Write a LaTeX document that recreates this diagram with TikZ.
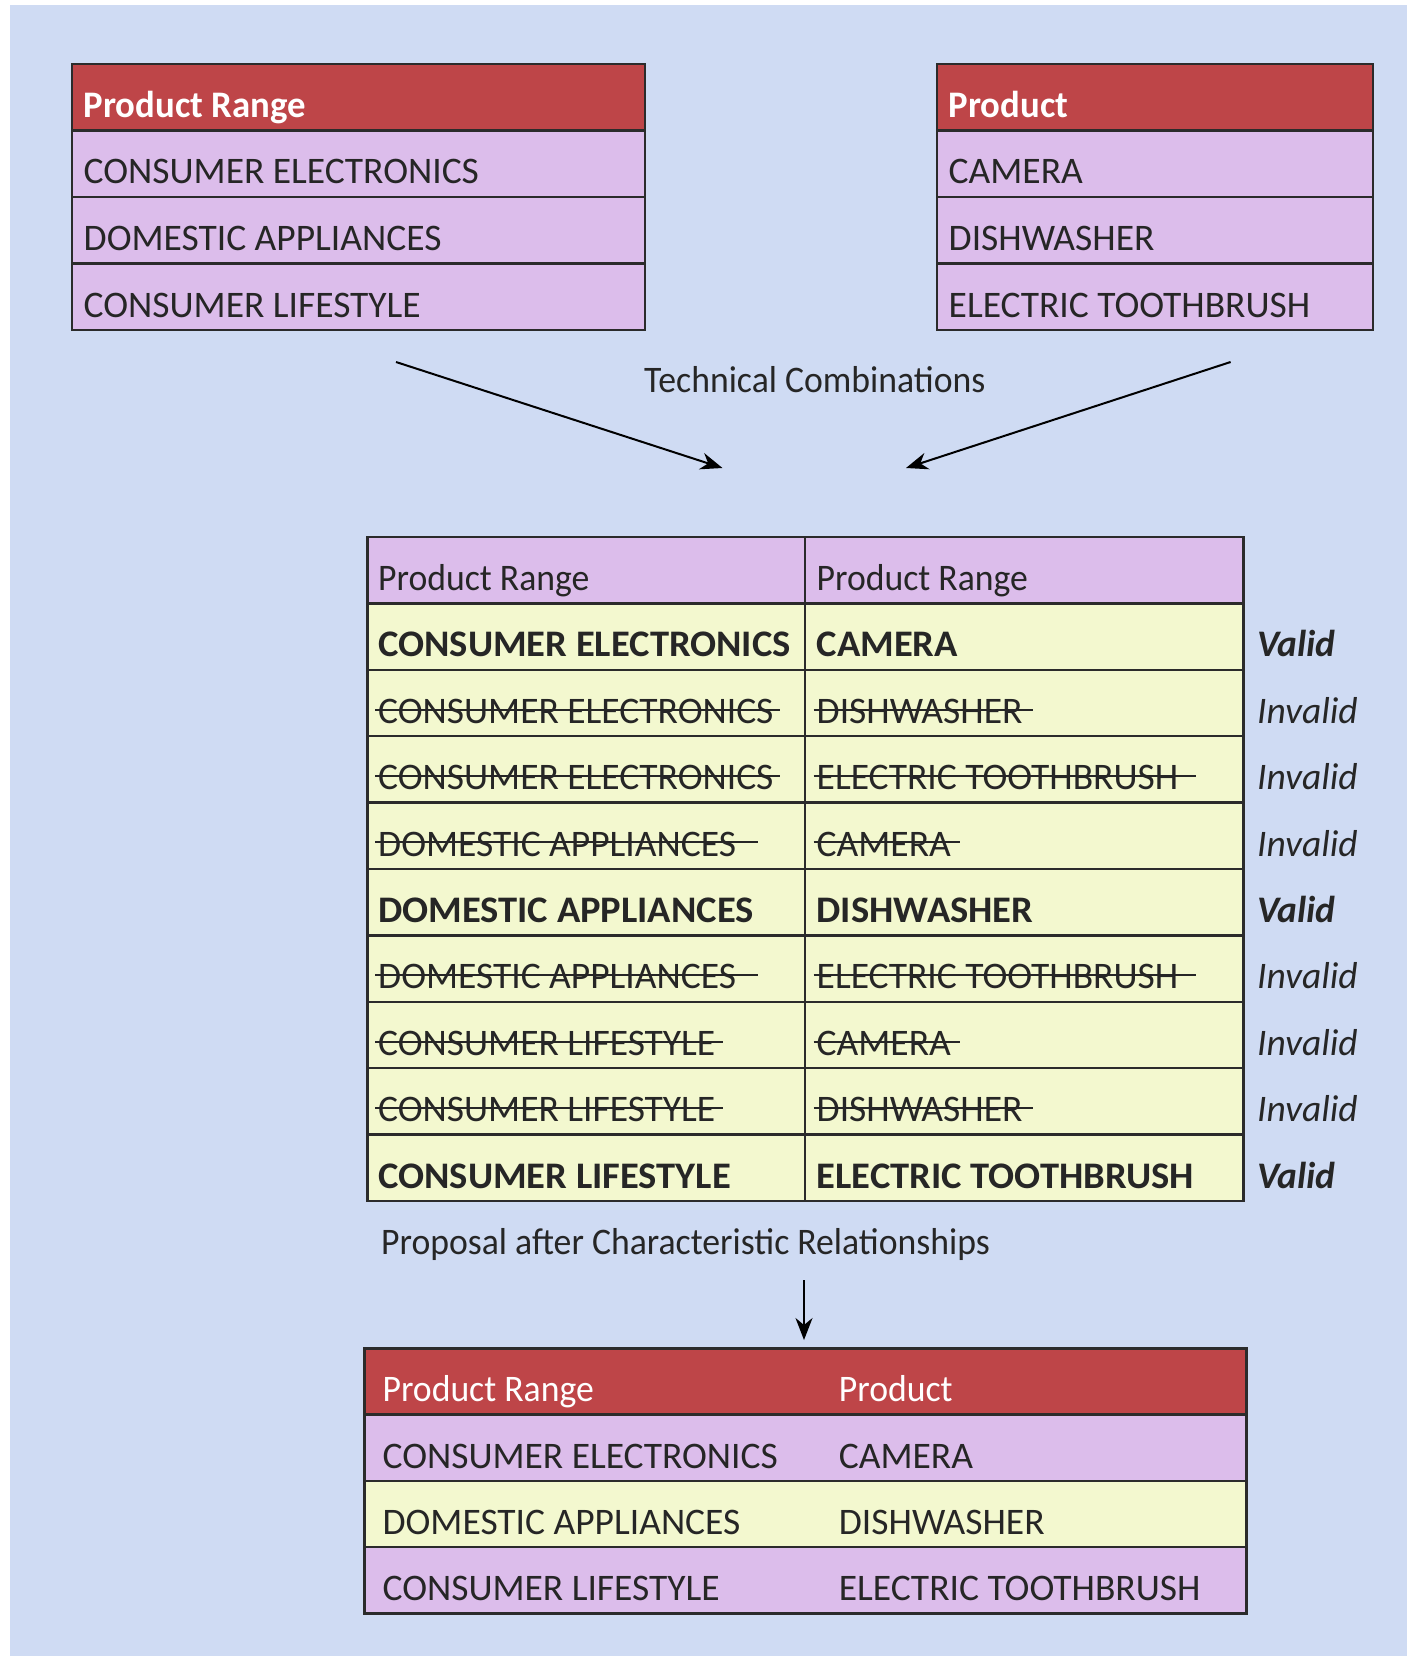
\documentclass[tikz,border=0pt]{standalone}
\usepackage{fontspec}
\setmainfont{Carlito}
% slightly condensed face for mixed-case captions, slightly extended face for bold capitals
\newfontfamily\capfont[FakeStretch=0.952]{Carlito}
\newfontfamily\capboldfont[FakeStretch=0.98]{Carlito}
\newfontfamily\wideboldfont[FakeStretch=1.028]{Carlito}
\usetikzlibrary{arrows.meta}

\definecolor{bgblue}{HTML}{CFDBF3}
\definecolor{hdrred}{HTML}{BE4548}
\definecolor{lilac}{HTML}{DCBDEB}
\definecolor{paleyel}{HTML}{F3F8CF}
\definecolor{gridline}{HTML}{2B2B2B}
\definecolor{ink}{HTML}{262626}

% struck-through entry: #1 = how far the bar runs past the text
\newcommand\strk[2][10pt]{\setbox0=\hbox{#2}%
  \rlap{\kern-3pt\rule[0.34em]{\dimexpr\wd0+3pt+#1\relax}{2pt}}\box0}

\tikzset{
  txt/.style={anchor=base west, inner sep=0pt, text=ink,
              font=\fontsize{37.5}{45}\selectfont},
  captxt/.style={txt, font=\capfont\fontsize{37.5}{45}\selectfont},
  boldtxt/.style={txt, font=\wideboldfont\fontsize{37.5}{45}\selectfont\bfseries},
  hdtxt/.style={txt, text=white, font=\capboldfont\fontsize{37.5}{45}\selectfont\bfseries},
  hdlight/.style={captxt, text=white},
  grid/.style={draw=gridline, line width=2.5pt},
  flow/.style={draw=black, line width=2pt,
               -{Stealth[length=22pt,width=17pt,inset=7pt]}},
  okmark/.style={txt, font=\fontsize{37.5}{45}\selectfont\bfseries\itshape},
  nomark/.style={txt, font=\fontsize{37.5}{45}\selectfont\itshape},
}

\begin{document}
\begin{tikzpicture}[x=1pt,y=-1pt]
\useasboundingbox (0,0) rectangle (1407,1656);
\fill[white] (0,0) rectangle (1407,1656);
\fill[bgblue] (10,5) rectangle (1407,1656);

% ---------- source table: product ranges ----------
\fill[hdrred] (72,64) rectangle (645,130.5);
\fill[lilac] (72,130.5) rectangle (645,330);
\foreach \yy in {130.5,197,263.5} \draw[grid] (72,\yy) -- (645,\yy);
\draw[grid] (72,64) rectangle (645,330);
\node[hdtxt] (rangehead) at (83.5,117.5) {Product Range};
\node[txt] (range1) at (83.5,184) {CONSUMER ELECTRONICS};
\node[txt] (range2) at (83.5,250.5) {DOMESTIC APPLIANCES};
\node[txt] (range3) at (83.5,317) {CONSUMER LIFESTYLE};

% ---------- source table: products ----------
\fill[hdrred] (937,64) rectangle (1373,130.5);
\fill[lilac] (937,130.5) rectangle (1373,330);
\foreach \yy in {130.5,197,263.5} \draw[grid] (937,\yy) -- (1373,\yy);
\draw[grid] (937,64) rectangle (1373,330);
\node[hdtxt] (prodhead) at (948.5,117.5) {Product};
\node[txt] (prod1) at (948.5,184) {CAMERA};
\node[txt] (prod2) at (948.5,250.5) {DISHWASHER};
\node[txt] (prod3) at (948.5,317) {ELECTRIC TOOTHBRUSH};

% ---------- merging arrows ----------
\coordinate (inL) at (396,362);
\coordinate (outL) at (722.5,468);
\coordinate (inR) at (1230.6,362);
\coordinate (outR) at (906,468);
\draw[flow] (inL) -- (outL);
\draw[flow] (inR) -- (outR);
\node[captxt] (techlabel) at (644,392) {Technical Combinations};

% ---------- all combinations ----------
\def\rh{66.4}
\fill[lilac] (367.6,537) rectangle (1243.3,603.4);
\fill[paleyel] (367.6,603.4) rectangle (1243.3,1201);
\foreach \i in {1,...,9} \draw[grid] (367.6,537+\i*\rh) -- (1243.3,537+\i*\rh);
\draw[grid] (804.9,537) -- (804.9,1201);
\draw[grid] (367.6,537) rectangle (1243.3,1201);

\node[captxt] (colA) at (378,590.5) {Product Range};
\node[captxt] (colB) at (816.5,590.5) {Product Range};

\node[boldtxt] (c1a) at (378,656.9) {CONSUMER ELECTRONICS};
\node[boldtxt] (c1b) at (816.5,656.9) {CAMERA};
\node[okmark] (c1v) at (1257,656.9) {Valid};

\node[txt] (c2a) at (378,723.3) {\strk[6pt]{CONSUMER ELECTRONICS}};
\node[txt] (c2b) at (816.5,723.3) {\strk[11pt]{DISHWASHER}};
\node[nomark] (c2v) at (1257,723.3) {Invalid};

\node[txt] (c3a) at (378,789.7) {\strk[6pt]{CONSUMER ELECTRONICS}};
\node[txt] (c3b) at (816.5,789.7) {\strk[18pt]{ELECTRIC TOOTHBRUSH}};
\node[nomark] (c3v) at (1257,789.7) {Invalid};

\node[txt] (c4a) at (378,856.1) {\strk[22pt]{DOMESTIC APPLIANCES}};
\node[txt] (c4b) at (816.5,856.1) {\strk[9pt]{CAMERA}};
\node[nomark] (c4v) at (1257,856.1) {Invalid};

\node[boldtxt] (c5a) at (378,922.5) {DOMESTIC APPLIANCES};
\node[boldtxt] (c5b) at (816.5,922.5) {DISHWASHER};
\node[okmark] (c5v) at (1257,922.5) {Valid};

\node[txt] (c6a) at (378,988.9) {\strk[22pt]{DOMESTIC APPLIANCES}};
\node[txt] (c6b) at (816.5,988.9) {\strk[18pt]{ELECTRIC TOOTHBRUSH}};
\node[nomark] (c6v) at (1257,988.9) {Invalid};

\node[txt] (c7a) at (378,1055.3) {\strk[8pt]{CONSUMER LIFESTYLE}};
\node[txt] (c7b) at (816.5,1055.3) {\strk[9pt]{CAMERA}};
\node[nomark] (c7v) at (1257,1055.3) {Invalid};

\node[txt] (c8a) at (378,1121.7) {\strk[8pt]{CONSUMER LIFESTYLE}};
\node[txt] (c8b) at (816.5,1121.7) {\strk[11pt]{DISHWASHER}};
\node[nomark] (c8v) at (1257,1121.7) {Invalid};

\node[boldtxt] (c9a) at (378,1188.1) {CONSUMER LIFESTYLE};
\node[boldtxt] (c9b) at (816.5,1188.1) {ELECTRIC TOOTHBRUSH};
\node[okmark] (c9v) at (1257,1188.1) {Valid};

% ---------- proposal ----------
\node[captxt] (proplabel) at (381,1254) {Proposal after Characteristic Relationships};
\coordinate (downS) at (804,1280);
\coordinate (downE) at (804,1340);
\draw[flow] (downS) -- (downE);

\fill[hdrred] (364.4,1348.3) rectangle (1246.4,1414.6);
\fill[lilac] (364.4,1414.6) rectangle (1246.4,1480.9);
\fill[paleyel] (364.4,1480.9) rectangle (1246.4,1547.2);
\fill[lilac] (364.4,1547.2) rectangle (1246.4,1613.5);
\foreach \yy in {1414.6,1480.9,1547.2} \draw[grid] (364.4,\yy) -- (1246.4,\yy);
\draw[grid] (364.4,1348.3) rectangle (1246.4,1613.5);

\node[hdlight] (resA) at (382.4,1401.7) {Product Range};
\node[hdlight] (resB) at (838.7,1401.7) {Product};
\node[txt] (r1a) at (382.4,1468) {CONSUMER ELECTRONICS};
\node[txt] (r1b) at (838.7,1468) {CAMERA};
\node[txt] (r2a) at (382.4,1534.3) {DOMESTIC APPLIANCES};
\node[txt] (r2b) at (838.7,1534.3) {DISHWASHER};
\node[txt] (r3a) at (382.4,1600.6) {CONSUMER LIFESTYLE};
\node[txt] (r3b) at (838.7,1600.6) {ELECTRIC TOOTHBRUSH};
\end{tikzpicture}
\end{document}
